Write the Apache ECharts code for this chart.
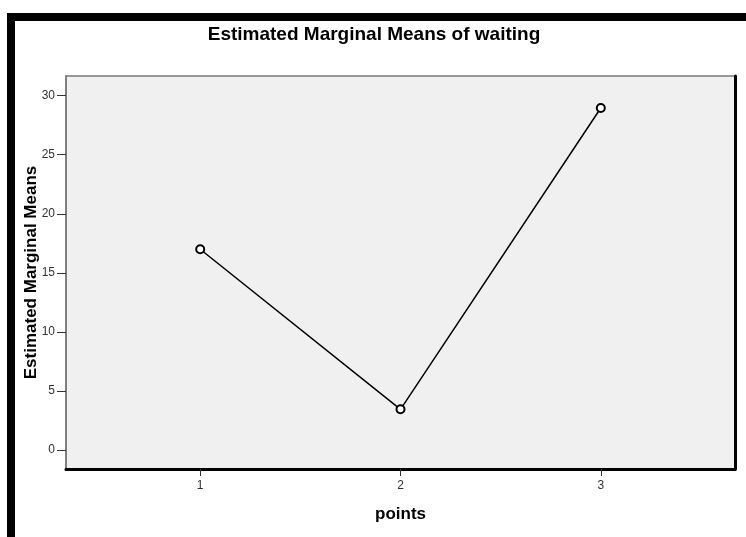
<!DOCTYPE html>
<html>
<head>
<meta charset="utf-8">
<script src="https://cdn.jsdelivr.net/npm/echarts@6/dist/echarts.min.js"></script>
<style>
  html, body { margin: 0; padding: 0; background: #fff; }
  #chart { width: 746px; height: 537px; }
</style>
</head>
<body>
<div id="chart"></div>
<script>
  // points levels and their estimated marginal means of waiting
  const points = [1, 2, 3];
  const means = [17.0, 3.45, 28.95];
  const yTicks = [0, 5, 10, 15, 20, 25, 30];

  const myChart = echarts.init(document.getElementById('chart'));

  myChart.setOption({
    animation: false,
    textStyle: { fontFamily: 'Liberation Sans, Arial, sans-serif' },
    title: {
      text: 'Estimated Marginal Means of waiting',
      left: 369,
      top: 20,
      textAlign: 'center',
      textStyle: { fontSize: 19, fontWeight: 'bold', color: '#000' }
    },
    graphic: [
      { type: 'rect', shape: { x: 7, y: 13, width: 739, height: 8 }, style: { fill: '#000' } },
      { type: 'rect', shape: { x: 7, y: 13, width: 8, height: 524 }, style: { fill: '#000' } }
    ],
    grid: {
      left: 66,
      top: 76,
      right: 11,
      bottom: 68,
      show: true,
      backgroundColor: '#f0f0f0',
      borderColor: '#777',
      borderWidth: 1.5
    },
    xAxis: {
      type: 'value',
      min: 0.33,
      max: 3.67,
      name: 'points',
      nameLocation: 'middle',
      nameGap: 37,
      nameMoveOverlap: false,
      nameTextStyle: { fontSize: 17, fontWeight: 'bold', color: '#000' },
      axisLine: { show: true, onZero: false, lineStyle: { color: '#000', width: 3 } },
      axisTick: { show: true, length: 7, customValues: points, lineStyle: { color: '#333' } },
      axisLabel: { customValues: points, color: '#333', fontSize: 12, margin: 11 },
      splitLine: { show: false }
    },
    yAxis: [
      {
        type: 'value',
        min: -1.6,
        max: 31.66,
        name: 'Estimated Marginal Means',
        nameLocation: 'middle',
        nameGap: 26,
        nameMoveOverlap: false,
        nameTextStyle: { fontSize: 17, fontWeight: 'bold', color: '#000' },
        axisLine: { show: true, onZero: false, lineStyle: { color: '#777', width: 1.5 } },
        axisTick: { show: true, length: 9, customValues: yTicks, lineStyle: { color: '#333' } },
        axisLabel: { customValues: yTicks, color: '#333', fontSize: 12, margin: 11 },
        splitLine: { show: false }
      },
      {
        type: 'value',
        position: 'right',
        min: -1.6,
        max: 31.66,
        axisLine: { show: true, onZero: false, lineStyle: { color: '#000', width: 3 } },
        axisTick: { show: false },
        axisLabel: { show: false },
        splitLine: { show: false }
      }
    ],
    series: [
      {
        type: 'line',
        data: points.map((p, i) => [p, means[i]]),
        symbol: 'emptyCircle',
        symbolSize: 8,
        lineStyle: { color: '#000', width: 1.5 },
        itemStyle: { color: '#000', borderColor: '#000', borderWidth: 1.5 }
      }
    ]
  });
</script>
</body>
</html>
